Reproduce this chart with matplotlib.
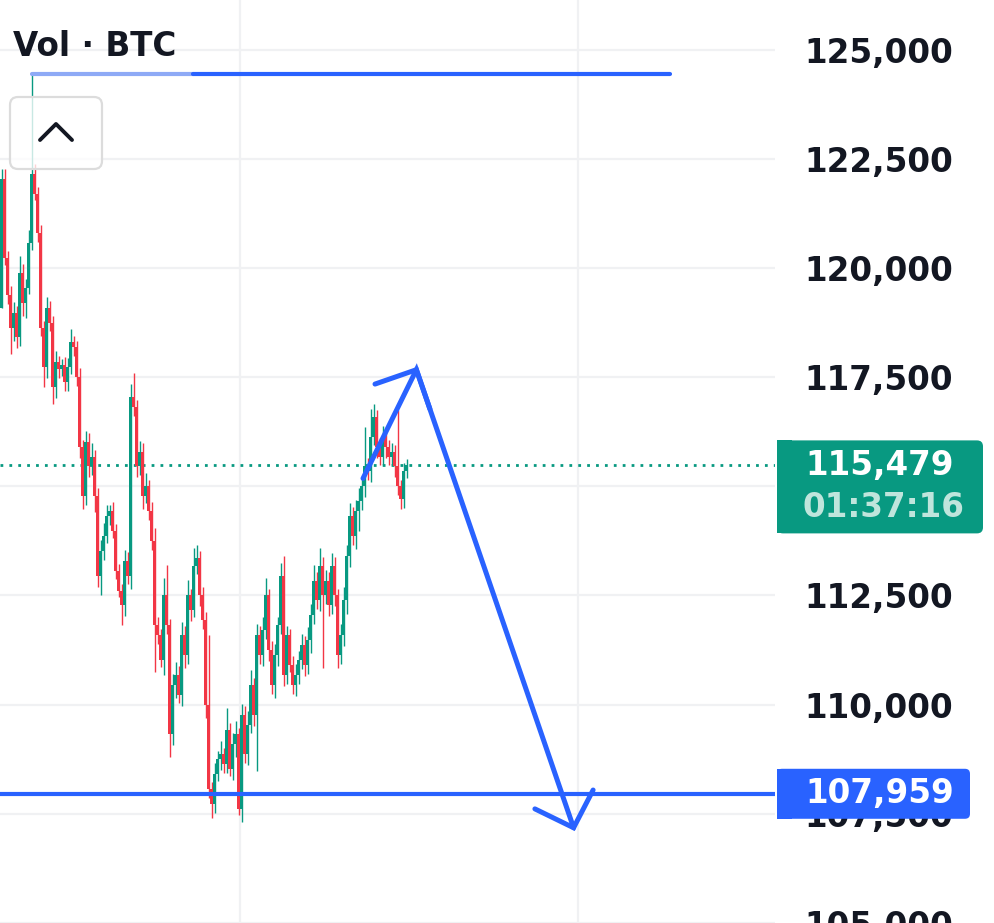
import matplotlib
matplotlib.use("Agg")
import matplotlib.pyplot as plt
import numpy as np
from matplotlib.patches import FancyBboxPatch, Rectangle
from matplotlib.transforms import IdentityTransform

# ---------------- data ----------------
first_open = 119091
closes = [
    122045, 120227, 119386, 118636, 118977, 118409, 119886, 119204, 119545, 120568,
    122159, 121704, 120795, 118636, 117727, 119091, 118750, 117272, 117841, 117681,
    117772, 117386, 117727, 118295, 118181, 117500, 115909, 114772, 116022, 115454,
    115681, 114772, 112954, 113522, 113863, 114318, 114431, 113977, 113068, 112613,
    112272, 113295, 112954, 117045, 116818, 115454, 115795, 114772, 115000, 114431,
    113750, 111818, 111591, 111022, 112500, 111818, 109318, 110454, 110681, 110227,
    111591, 111136, 112500, 112159, 113181, 113363, 112500, 111931, 110000, 108068,
    107727, 108409, 108750, 108863, 108636, 109431, 108522, 109091, 109318, 107613,
    109772, 108863, 109545, 110454, 109772, 111591, 111136, 111704, 112500, 111250,
    110454, 111136, 111818, 112954, 110681, 111591, 110909, 110454, 110681, 111022,
    111363, 110909, 111477, 112045, 112841, 112386, 113181, 112500, 112841, 112272,
    113181, 112500, 111136, 111591, 112386, 113409, 114318, 113863, 114431, 114659,
    115000, 115454, 115341, 116136, 116591, 115909, 115681, 116136, 115909, 115681,
    115795, 115454, 115000, 114704, 115341, 115479,
]
upper_wick = [
    230, 230, 150, 200, 250, 150, 390, 200, 200, 300,
    2270, 230, 150, 200, 150, 250, 150, 150, 250, 150,
    150, 200, 200, 300, 150, 150, 200, 150, 250, 200,
    300, 150, 200, 250, 300, 250, 150, 200, 150, 150,
    150, 250, 200, 300, 550, 150, 250, 200, 300, 150,
    200, 300, 200, 150, 400, 700, 150, 250, 300, 200,
    300, 200, 350, 150, 400, 300, 150, 200, 200, 1590,
    150, 250, 200, 300, 150, 500, 150, 250, 300, 150,
    250, 200, 300, 350, 150, 250, 200, 300, 400, 150,
    200, 250, 200, 300, 450, 200, 150, 200, 250, 200,
    250, 200, 300, 250, 350, 200, 400, 200, 250, 200,
    300, 200, 150, 250, 300, 250, 300, 200, 250, 300,
    200, 900, 200, 640, 300, 150, 200, 250, 200, 150,
    200, 150, 1300, 150, 200, 150,
]
lower_wick = [
    0, 150, 200, 610, 300, 250, 200, 300, 350, 150,
    150, 150, 200, 200, 450, 250, 200, 390, 250, 200,
    150, 200, 200, 150, 200, 200, 250, 300, 200, 250,
    200, 350, 250, 450, 200, 150, 200, 150, 200, 150,
    450, 250, 200, 300, 200, 250, 200, 300, 150, 200,
    200, 1070, 200, 150, 340, 200, 520, 250, 300, 200,
    250, 300, 200, 250, 150, 200, 250, 200, 300, 200,
    320, 200, 150, 250, 200, 200, 150, 250, 300, 150,
    300, 200, 250, 200, 250, 1300, 200, 250, 200, 250,
    200, 300, 250, 200, 250, 200, 150, 200, 250, 200,
    200, 250, 200, 300, 200, 200, 250, 1650, 200, 250,
    200, 250, 300, 200, 250, 300, 250, 200, 300, 450,
    200, 250, 200, 250, 200, 250, 200, 200, 250, 200,
    200, 250, 200, 230, 200, 150,
]
y_ticks = [105000, 107500, 110000, 112500, 115000, 117500, 120000, 122500, 125000]
last_price = 115479
timer_text = "01:37:16"
support_price = 107959
resistance_price = 124431
title_text = "Vol \u00b7 BTC"

# arrow path drawn on chart (bar index, price)
arrow_path_x = [120.5, 138.3, 190.7]
arrow_path_y = [115181, 117670, 107181]
head_top_x = [124.5, 138.3, 142.8]
head_top_y = [117341, 117670, 116772]
head_bot_x = [177.8, 190.7, 197.2]
head_bot_y = [107613, 107181, 108045]

# ---------------- style ----------------
GREEN = "#089981"
RED = "#f23645"
BLUE = "#2962ff"
GRID = "#f0f1f3"
TXT = "#131722"

W, H = 995, 923
fig = plt.figure(figsize=(W / 100, H / 100), dpi=100)
fig.patch.set_facecolor("white")
ax_right_px = 775
ax = fig.add_axes([0, 0, ax_right_px / W, 1])
ax.set_facecolor("white")

n = len(closes)
idx = np.arange(n)
opens = np.array([first_open] + closes[:-1], dtype=float)
cl = np.array(closes, dtype=float)
top = np.maximum(opens, cl)
bot = np.minimum(opens, cl)
highs = top + np.array(upper_wick)
lows = bot - np.array(lower_wick)
colors = [GREEN if c >= o else RED for o, c in zip(opens, cl)]

ax.set_xlim(-0.5, 257.83)
ax.set_ylim(105159, 126136)

# grid
for t in y_ticks:
    ax.axhline(t, color=GRID, lw=1.6, zorder=0)
for gx in [79.5, 192.2]:
    ax.axvline(gx, color=GRID, lw=1.6, zorder=0)

ax.vlines(idx, lows, highs, colors=colors, lw=1.0, zorder=2)
ax.bar(idx, np.maximum(top - bot, 40), bottom=bot, width=0.85, color=colors,
       edgecolor="none", zorder=3)

# last price dotted line
ax.axhline(last_price, color=GREEN, lw=2.0, ls=(0, (1.0, 2.2)), zorder=1)
# support line
ax.axhline(support_price, color=BLUE, lw=3.0, zorder=4, solid_capstyle="butt")
# top resistance ray
ax.plot([10.2, 63.8], [resistance_price] * 2, color="#8eaaf6", lw=3.0,
        solid_capstyle="round", zorder=4)
ax.plot([63.8, 222.8], [resistance_price] * 2, color=BLUE, lw=3.0,
        solid_capstyle="round", zorder=4)

# hand-drawn arrow
for xs, ys in [(arrow_path_x, arrow_path_y), (head_top_x, head_top_y),
               (head_bot_x, head_bot_y)]:
    ax.plot(xs, ys, color=BLUE, lw=3.6, solid_capstyle="round",
            solid_joinstyle="miter", zorder=5)

# y axis on the right
ax.yaxis.tick_right()
ax.set_yticks(y_ticks)
ax.set_yticklabels([f"{t:,}" for t in y_ticks])
ax.tick_params(axis="y", length=0, pad=21, labelsize=23.5, labelcolor=TXT)
for lab in ax.get_yticklabels():
    lab.set_fontweight("bold")
ax.set_xticks([])
for s in ax.spines.values():
    s.set_visible(False)

fig.canvas.draw()


def ypx(price):
    return ax.transData.transform((0, price))[1]


ident = IdentityTransform()

# collapse button
btn = FancyBboxPatch((10, H - 169), 92, 72, boxstyle="round,pad=0,rounding_size=8",
                     transform=ident, facecolor=(1, 1, 1, 0.78), edgecolor="#dcdcdc",
                     lw=1.6, zorder=6)
fig.add_artist(btn)
chev = plt.Line2D([40, 56, 72], [H - 140, H - 124, H - 140], transform=ident,
                  color=TXT, lw=2.8, solid_capstyle="round", zorder=7)
fig.add_artist(chev)

fig.text(13, H - 47, title_text, transform=ident, fontsize=23.5, fontweight="bold",
         color=TXT, va="center", ha="left", zorder=8)

# last price label (green)
yl = ypx(last_price)
gbox = FancyBboxPatch((777, yl - 68), 206, 93, boxstyle="round,pad=0,rounding_size=6",
                      transform=ident, facecolor=GREEN, edgecolor="none", zorder=6)
fig.add_artist(gbox)
fig.add_artist(Rectangle((777, yl - 68), 15, 93, transform=ident, facecolor=GREEN,
                         edgecolor="none", zorder=6))
fig.text(805, yl, f"{last_price:,}", transform=ident, fontsize=23.5, color="white",
         fontweight="bold", va="center", ha="left", zorder=8)
fig.text(803, yl - 42, timer_text, transform=ident, fontsize=23.5, color="#bfe5dc",
         fontweight="bold", va="center", ha="left", zorder=8)

# support label (blue)
ys = ypx(support_price)
bbox = FancyBboxPatch((777, ys - 25), 193, 50, boxstyle="round,pad=0,rounding_size=5",
                      transform=ident, facecolor=BLUE, edgecolor="none", zorder=6)
fig.add_artist(bbox)
fig.add_artist(Rectangle((777, ys - 25), 15, 50, transform=ident, facecolor=BLUE,
                         edgecolor="none", zorder=6))
fig.text(805, ys, f"{support_price:,}", transform=ident, fontsize=23.5, color="white",
         fontweight="bold", va="center", ha="left", zorder=8)

fig.savefig("out.png", dpi=100, facecolor="white")
